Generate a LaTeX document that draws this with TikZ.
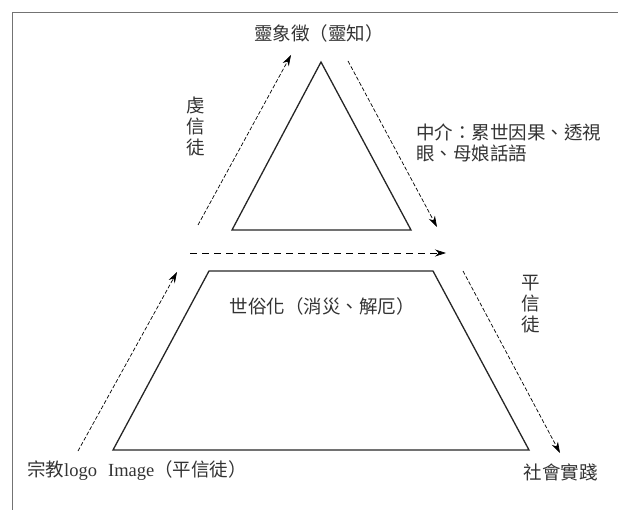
\documentclass[tikz,border=0pt]{standalone}
\usepackage{fontspec}
\setmainfont{Liberation Serif}
\newfontfamily\cjk{Noto Sans CJK TC}
\usetikzlibrary{arrows.meta}

\begin{document}
\begin{tikzpicture}[x=1pt,y=-1pt,
  lbl/.style={inner sep=0pt,text=black!80,font=\cjk\fontsize{18.5}{21}\selectfont},
  flow/.style={dash pattern=on 4pt off 2pt,line width=0.7pt,-{Stealth[length=11pt,width=7pt]}},
  solid/.style={line width=1.3pt,black!85,line join=miter}]
\useasboundingbox (0,0) rectangle (618,510);
\draw[black!55,line width=0.8pt] (12,510) -- (12,12) -- (618,12);
% triangle
\coordinate (t1) at (321,62);
\coordinate (t2) at (411,230);
\coordinate (t3) at (232,230);
\draw[solid] (t1) -- (t2) -- (t3) -- cycle;
% trapezoid
\coordinate (b1) at (209,271);
\coordinate (b2) at (433,271);
\coordinate (b3) at (529,450);
\coordinate (b4) at (113,450);
\draw[solid] (b1) -- (b2) -- (b3) -- (b4) -- cycle;
% flows
\coordinate (up1) at (198,225);  \coordinate (up2) at (291,55);
\coordinate (dn1) at (348,61);   \coordinate (dn2) at (437,227);
\coordinate (mid1) at (190,253); \coordinate (mid2) at (446,253);
\coordinate (lo1) at (78,451);   \coordinate (lo2) at (177,272);
\coordinate (ro1) at (463,271);  \coordinate (ro2) at (560,453);
\draw[flow] (up1) -- (up2);
\draw[flow] (dn1) -- (dn2);
\draw[flow,dash pattern=on 7pt off 5pt] (mid1) -- (mid2);
\draw[flow] (lo1) -- (lo2);
\draw[flow] (ro1) -- (ro2);
% labels
\node[lbl] (top) at (319,33) {靈象徵（靈知）};
\node[lbl,align=center] (devout) at (196,126) {虔\\信\\徒};
\node[lbl,align=left,anchor=west] (medium) at (416,143) {中介：累世因果、透視\\眼、母娘話語};
\node[lbl,align=center] (lay) at (531,304) {平\\信\\徒};
\node[lbl] (secular) at (322,306) {世俗化（消災、解厄）};
\node[lbl,anchor=west] (logo) at (27,471) {宗教{\rmfamily logo\hspace{0.6em}Image}（平信徒）};
\node[lbl,anchor=east] (practice) at (598,472) {社會實踐};
\end{tikzpicture}
\end{document}
